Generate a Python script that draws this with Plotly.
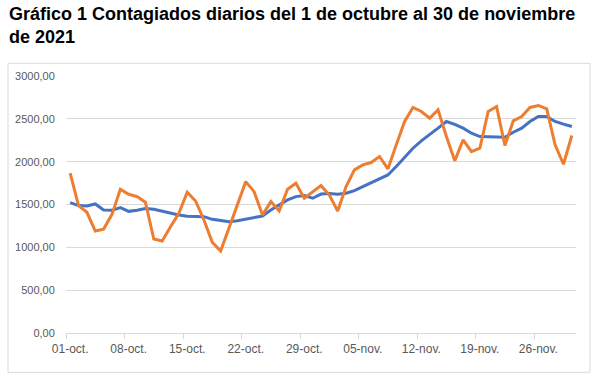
import plotly.graph_objects as go
import pandas as pd

dates = pd.date_range("2021-10-01", "2021-11-30", freq="D").strftime("%Y-%m-%d").tolist()

media_movil = [1522, 1487, 1483, 1506, 1436, 1432, 1463, 1420, 1432, 1452,
               1444, 1420, 1401, 1378, 1362, 1362, 1358, 1327, 1315, 1300,
               1311, 1327, 1346, 1366, 1436, 1495, 1553, 1592, 1604, 1573,
               1622, 1627, 1619, 1631, 1662, 1709, 1756, 1795, 1845, 1943,
               2048, 2157, 2243, 2313, 2391, 2469, 2436, 2391, 2332, 2293,
               2293, 2293, 2286, 2344, 2391, 2469, 2527, 2527, 2469, 2438,
               2410]

contagiados = [1865, 1487, 1409, 1190, 1213, 1385, 1678, 1619, 1592, 1526,
               1097, 1074, 1241, 1397, 1643, 1541, 1319, 1058, 957, 1222,
               1495, 1767, 1650, 1378, 1534, 1424, 1678, 1748, 1573, 1650,
               1720, 1611, 1424, 1709, 1904, 1962, 1990, 2060, 1915, 2196,
               2469, 2633, 2586, 2508, 2605, 2293, 2010, 2254, 2118, 2157,
               2586, 2644, 2188, 2477, 2527, 2633, 2656, 2617, 2196, 1970,
               2305]

tick_dates = ["2021-10-01", "2021-10-08", "2021-10-15", "2021-10-22", "2021-10-29",
              "2021-11-05", "2021-11-12", "2021-11-19", "2021-11-26"]
tick_text = ["01-oct.", "08-oct.", "15-oct.", "22-oct.", "29-oct.",
             "05-nov.", "12-nov.", "19-nov.", "26-nov."]

fig = go.Figure()
fig.add_trace(go.Scatter(x=dates, y=media_movil, mode="lines",
                         line=dict(color="#4472C4", width=3), name="Media móvil"))
fig.add_trace(go.Scatter(x=dates, y=contagiados, mode="lines",
                         line=dict(color="#ED7D31", width=3), name="Contagiados"))

W, H = 600, 374
L, R, T, B = 66, 576, 75.7, 332.7
pw, ph = R - L, B - T

fig.update_layout(
    width=W, height=H,
    margin=dict(l=L, r=W - R, t=T, b=H - B),
    paper_bgcolor="white", plot_bgcolor="white",
    showlegend=False,
    separators=",.",
    font=dict(family="Liberation Sans, Arial, sans-serif", color="#595959", size=11),
)
fig.update_xaxes(
    type="date",
    range=["2021-09-30 12:00", "2021-11-30 12:00"],
    tickmode="array", tickvals=tick_dates, ticktext=tick_text,
    ticks="outside", ticklen=5, tickcolor="rgba(0,0,0,0)", showgrid=False,
    showline=True, linecolor="#d9d9d9", linewidth=1,
    tickfont=dict(size=12, color="#595959"),
    minor=dict(ticks="outside", ticklen=5, tickcolor="#d9d9d9", tickwidth=1,
               tick0="2021-09-30 12:00", dtick=7 * 86400000, showgrid=False),
    zeroline=False,
)
fig.update_yaxes(
    range=[0, 3000], dtick=500, tickformat=".2f",
    showgrid=True, gridcolor="#d9d9d9", gridwidth=1,
    zeroline=False, showline=False,
    ticks="outside", ticklen=8, tickcolor="rgba(0,0,0,0)",
    tickfont=dict(size=11, color="#595959"),
)

# chart border
fig.add_shape(type="rect", xref="paper", yref="paper",
              x0=(8 - L) / pw, x1=(590 - L) / pw,
              y0=(B - 372) / ph, y1=(B - 63) / ph,
              line=dict(color="#d9d9d9", width=1), fillcolor="rgba(0,0,0,0)", layer="below")

fig.add_annotation(
    text="<b>Gráfico 1 Contagiados diarios del 1 de octubre al 30 de noviembre<br>de 2021</b>",
    xref="paper", yref="paper", x=(7 - L) / pw, y=(B - 2) / ph,
    xanchor="left", yanchor="top", align="left", showarrow=False,
    font=dict(family="Liberation Sans, Arial, sans-serif", size=18, color="black"),
)

fig.write_html("out.html", config={"displayModeBar": False},
               post_script="document.body.style.margin='0px';")
